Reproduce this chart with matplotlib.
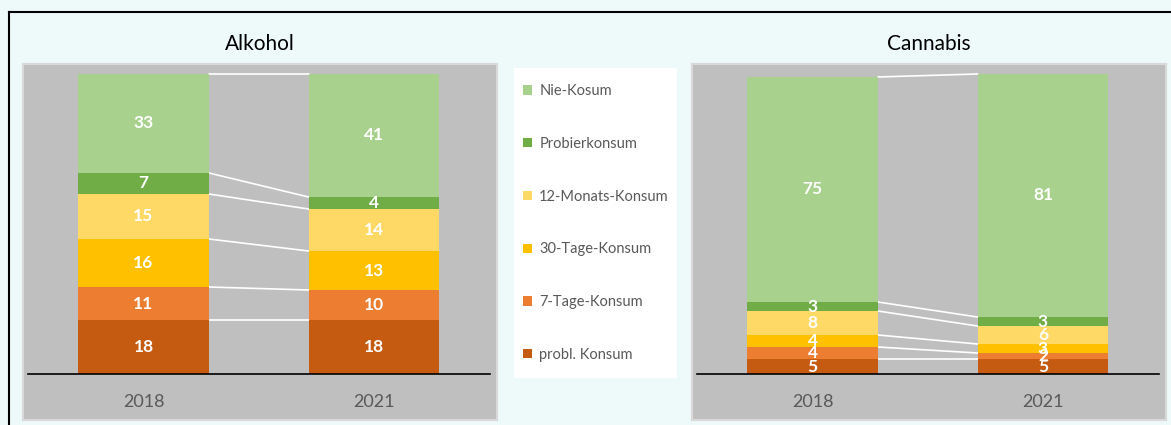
import matplotlib.pyplot as plt
from matplotlib.lines import Line2D
from matplotlib.patches import Patch

plt.rcParams['font.family'] = ['Lato', 'DejaVu Sans']

years = ["2018", "2021"]
categories = ["probl. Konsum", "7-Tage-Konsum", "30-Tage-Konsum",
              "12-Monats-Konsum", "Probierkonsum", "Nie-Kosum"]
colors = ["#C55A11", "#ED7D31", "#FFC000", "#FFD966", "#70AD47", "#A9D18E"]

# values per category, [2018, 2021]
alkohol = [[18, 18], [11, 10], [16, 13], [15, 14], [7, 4], [33, 41]]
cannabis = [[5, 5], [4, 2], [4, 3], [8, 6], [3, 3], [75, 81]]

W, H = 1171, 425
fig = plt.figure(figsize=(W / 100, H / 100), dpi=100)
fig.patch.set_facecolor("#EEF9F9")

bar_w = 0.568


def panel(left_px, title, data):
    ax = fig.add_axes([left_px / W, 1 - 420 / H, 474 / W, 356 / H])
    ax.set_facecolor("#BFBFBF")
    for s in ax.spines.values():
        s.set_color("#D9D9D9")
        s.set_linewidth(1.5)
    ax.set_xlim(-0.523, 1.534)
    ax.set_ylim(-15.33, 103.33)
    ax.set_xticks([])
    ax.set_yticks([])
    x = [0, 1]
    bottoms = [0, 0]
    tops_prev = []
    for vals, col in zip(data, colors):
        ax.bar(x, vals, bar_w, bottom=bottoms, color=col, zorder=2)
        for i in range(2):
            ax.text(x[i], bottoms[i] + vals[i] / 2, str(vals[i]), ha="center",
                    va="center", color="white", fontsize=12.5, fontweight="bold", zorder=3)
        bottoms = [bottoms[0] + vals[0], bottoms[1] + vals[1]]
        tops_prev.append(list(bottoms))
    # series lines between the bars
    for b in tops_prev:
        ax.plot([x[0] + bar_w / 2, x[1] - bar_w / 2], b, color="white", lw=1.2, zorder=1)
    ax.axhline(0, xmin=0.01, xmax=0.985, color="black", lw=1.2, zorder=4)
    for i, y in enumerate(years):
        ax.text(x[i], -9.3, y, ha="center", va="center", color="#595959", fontsize=13)
    ax.set_title(title, fontsize=15, color="black", pad=10)
    return ax


panel(23, "Alkohol", alkohol)
panel(692, "Cannabis", cannabis)

# legend box
lax = fig.add_axes([514 / W, 1 - 378 / H, 163 / W, 310 / H])
lax.set_facecolor("white")
for s in lax.spines.values():
    s.set_visible(False)
lax.set_xticks([])
lax.set_yticks([])
handles = [Patch(facecolor=c, edgecolor="none") for c in colors][::-1]
lax.legend(handles, categories[::-1], loc="center left", frameon=False,
           fontsize=10.5, labelcolor="#595959", handlelength=0.6, handleheight=0.6,
           handletextpad=0.5, labelspacing=2.66, borderaxespad=0.0,
           bbox_to_anchor=(0.02, 0.5))

# outer border
fig.add_artist(Line2D([9 / W, 1], [1 - 12 / H, 1 - 12 / H], color="black", lw=1.5,
                      transform=fig.transFigure))
fig.add_artist(Line2D([9 / W, 9 / W], [0, 1 - 12 / H], color="black", lw=1.5,
                      transform=fig.transFigure))

plt.savefig("out.png", dpi=100, facecolor=fig.get_facecolor())
